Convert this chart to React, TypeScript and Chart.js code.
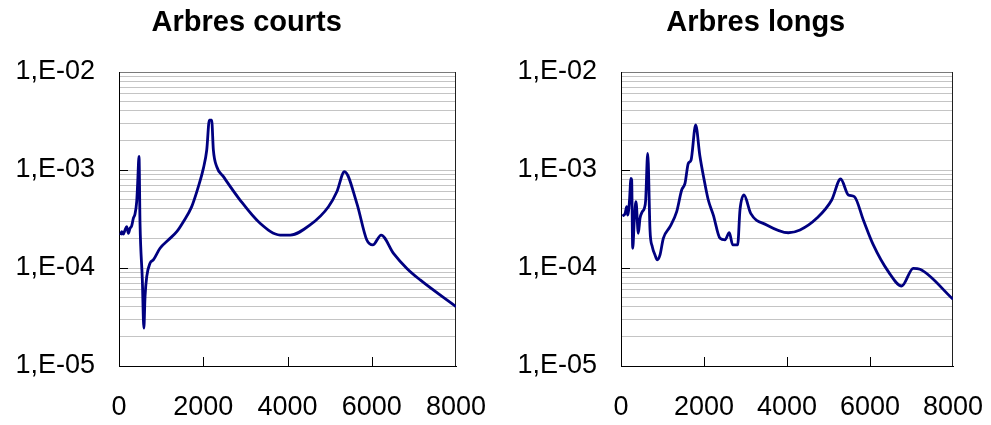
import React, { useEffect, useRef } from "react";
import { Chart, registerables } from "chart.js";

Chart.register(...registerables);

// ---- Data ----
const titles = ["Arbres courts", "Arbres longs"];

const shortX = [40, 63, 103, 143, 182, 222, 261, 301, 340, 380, 420, 443, 475, 499, 554, 590, 618, 658, 736, 815, 974, 1171, 1371, 1528, 1726, 1884, 2003, 2083, 2145, 2200, 2240, 2321, 2479, 2874, 3349, 3824, 4062, 4537, 4972, 5171, 5352, 5646, 5883, 6026, 6223, 6516, 6834, 7150, 8000];
const shortY = [2.17e-4, 2.35e-4, 2.22e-4, 2.44e-4, 2.64e-4, 2.26e-4, 2.54e-4, 2.69e-4, 3.21e-4, 3.56e-4, 4.75e-4, 7.3e-4, 1.38e-3, 2.86e-4, 7.55e-5, 2.43e-5, 5.09e-5, 8.16e-5, 1.12e-4, 1.21e-4, 1.59e-4, 1.93e-4, 2.35e-4, 2.97e-4, 4.23e-4, 6.76e-4, 1.04e-3, 1.6e-3, 3.23e-3, 3.23e-3, 1.6e-3, 1.08e-3, 8.55e-4, 4.94e-4, 2.86e-4, 2.17e-4, 2.17e-4, 2.75e-4, 4.22e-4, 6.0e-4, 9.6e-4, 4.57e-4, 1.93e-4, 1.72e-4, 2.17e-4, 1.41e-4, 9.9e-5, 7.55e-5, 4.03e-5];

const longX = [32, 96, 137, 161, 200, 241, 257, 282, 321, 361, 417, 458, 514, 562, 595, 643, 658, 699, 754, 819, 875, 940, 1020, 1181, 1342, 1462, 1542, 1622, 1687, 1799, 1900, 1990, 2100, 2225, 2386, 2506, 2610, 2691, 2811, 2867, 2964, 3125, 3510, 4032, 4313, 4715, 5077, 5293, 5478, 5622, 5839, 6080, 6442, 6763, 7043, 7205, 8000];
const longY = [3.4e-4, 3.56e-4, 4.23e-4, 3.47e-4, 4.57e-4, 8.22e-4, 7.9e-4, 1.59e-4, 3.09e-4, 4.75e-4, 2.26e-4, 3.21e-4, 3.76e-4, 4.06e-4, 4.94e-4, 1.48e-3, 1.17e-3, 2.44e-4, 1.65e-4, 1.36e-4, 1.21e-4, 1.36e-4, 2.01e-4, 2.64e-4, 3.76e-4, 6.25e-4, 7.3e-4, 1.17e-3, 1.26e-3, 2.88e-3, 1.4e-3, 8.5e-4, 5.0e-4, 3.47e-4, 2.01e-4, 1.94e-4, 2.29e-4, 1.72e-4, 1.72e-4, 3.91e-4, 5.56e-4, 3.61e-4, 2.75e-4, 2.29e-4, 2.44e-4, 3.21e-4, 4.94e-4, 8.09e-4, 5.56e-4, 5.35e-4, 3.09e-4, 1.72e-4, 9.18e-5, 6.55e-5, 9.93e-5, 9.7e-5, 4.8e-5];

const xTicks = [0, 2000, 4000, 6000, 8000];
const yMajor = [1e-5, 1e-4, 1e-3, 1e-2];
const yMajorLabels = ["1,E-05", "1,E-04", "1,E-03", "1,E-02"];
const yMinorMult = [2, 3, 4, 5, 6, 7, 8, 9];

const FONT = "'Liberation Sans', Arial, Helvetica, sans-serif";
const LINE_COLOR = "#000080";

function allYTicks(): number[] {
  const out: number[] = [];
  for (let i = 0; i < yMajor.length; i++) {
    out.push(yMajor[i]);
    if (i < yMajor.length - 1) {
      for (const m of yMinorMult) out.push(m * yMajor[i]);
    }
  }
  return out;
}

function majorIndex(v: number): number {
  for (let i = 0; i < yMajor.length; i++) {
    if (Math.abs(v - yMajor[i]) / yMajor[i] < 1e-6) return i;
  }
  return -1;
}

const framePlugin = {
  id: "frame",
  beforeDatasetsDraw(chart: any) {
    const { ctx, chartArea: a, scales } = chart;
    const xs = scales.x;
    const ys = scales.y;
    ctx.save();
    ctx.lineWidth = 1;
    ctx.strokeStyle = "#000";
    ctx.beginPath();
    for (const v of xTicks.slice(1, -1)) {
      const px = Math.round(xs.getPixelForValue(v)) + 0.5;
      ctx.moveTo(px, a.bottom);
      ctx.lineTo(px, a.bottom - 9);
    }
    for (const v of yMajor.slice(1, -1)) {
      const py = Math.round(ys.getPixelForValue(v)) + 0.5;
      ctx.moveTo(a.left, py);
      ctx.lineTo(a.left + 9, py);
    }
    ctx.stroke();
    // right border
    ctx.beginPath();
    ctx.strokeStyle = "#202020";
    const rx = Math.round(a.right) - 0.5;
    ctx.moveTo(rx, a.top);
    ctx.lineTo(rx, a.bottom);
    ctx.stroke();
    ctx.restore();
  },
  afterDraw(chart: any, _args: any, opts: any) {
    const { ctx } = chart;
    ctx.save();
    ctx.fillStyle = "#000";
    ctx.font = "bold 29px " + FONT;
    ctx.textAlign = "center";
    ctx.textBaseline = "middle";
    ctx.fillText(opts.text, opts.cx, opts.cy);
    ctx.restore();
  },
};

function Panel(props: {
  title: string;
  xs: number[];
  ys: number[];
  left: number;
  width: number;
  axisWidth: number;
  padRight: number;
  titleX: number;
}) {
  const ref = useRef<HTMLCanvasElement | null>(null);
  useEffect(() => {
    if (!ref.current) return;
    const points = props.xs.map((x, i) => ({ x, y: props.ys[i] }));
    const chart = new Chart(ref.current, {
      type: "line",
      data: {
        datasets: [
          {
            data: points,
            borderColor: LINE_COLOR,
            borderWidth: 2.8,
            pointRadius: 0,
            fill: false,
            cubicInterpolationMode: "monotone",
          },
        ],
      },
      options: {
        animation: false,
        responsive: false,
        maintainAspectRatio: false,
        layout: { autoPadding: false, padding: { left: 0, right: props.padRight, top: 72, bottom: 0 } },
        plugins: {
          legend: { display: false },
          tooltip: { enabled: false },
          title: { display: false },
          frame: { text: props.title, cx: props.titleX, cy: 23.4 },
        },
        scales: {
          x: {
            type: "linear",
            min: 0,
            max: 8000,
            afterBuildTicks: (s: any) => {
              s.ticks = xTicks.map((v) => ({ value: v }));
            },
            afterFit: (s: any) => {
              s.height = 59;
              s.paddingLeft = 0;
              s.paddingRight = 0;
            },
            grid: { display: false, drawTicks: false },
            border: { display: true, color: "#000", width: 1 },
            ticks: {
              color: "#000",
              font: { family: FONT, size: 27 },
              padding: 25,
              maxRotation: 0,
              autoSkip: false,
              callback: (v: any) => String(v),
            },
          },
          y: {
            type: "logarithmic",
            min: 1e-5,
            max: 1e-2,
            afterBuildTicks: (s: any) => {
              s.ticks = allYTicks().map((v) => ({ value: v }));
            },
            afterFit: (s: any) => {
              s.width = props.axisWidth;
              s.paddingTop = 0;
              s.paddingBottom = 0;
            },
            grid: {
              drawTicks: false,
              lineWidth: 1,
              color: (c: any) => {
                const v = c.tick ? c.tick.value : 0;
                const mi = majorIndex(v);
                if (mi === 0) return "rgba(0,0,0,0)";
                if (mi === yMajor.length - 1) return "#7a7a7a";
                return "#c4c4c4";
              },
            },
            border: { display: true, color: "#000", width: 1 },
            ticks: {
              color: "#000",
              font: { family: FONT, size: 27 },
              padding: 24,
              autoSkip: false,
              callback: (v: any) => {
                const mi = majorIndex(Number(v));
                return mi >= 0 ? yMajorLabels[mi] : "";
              },
            },
          },
        },
      } as any,
      plugins: [framePlugin],
    });
    return () => chart.destroy();
  }, []);
  return (
    <canvas
      ref={ref}
      width={props.width}
      height={425}
      style={{ position: "absolute", left: props.left, top: 0, width: props.width, height: 425 }}
    />
  );
}

export default function App() {
  return (
    <div
      style={{
        position: "absolute",
        left: 0,
        top: 0,
        width: 991,
        height: 425,
        overflow: "hidden",
        background: "#fff",
      }}
    >
      <Panel title={titles[0]} xs={shortX} ys={shortY} left={0} width={493} axisWidth={119} padRight={37} titleX={246.7} />
      <Panel title={titles[1]} xs={longX} ys={longY} left={505} width={501} axisWidth={116} padRight={53} titleX={250.8} />
    </div>
  );
}
